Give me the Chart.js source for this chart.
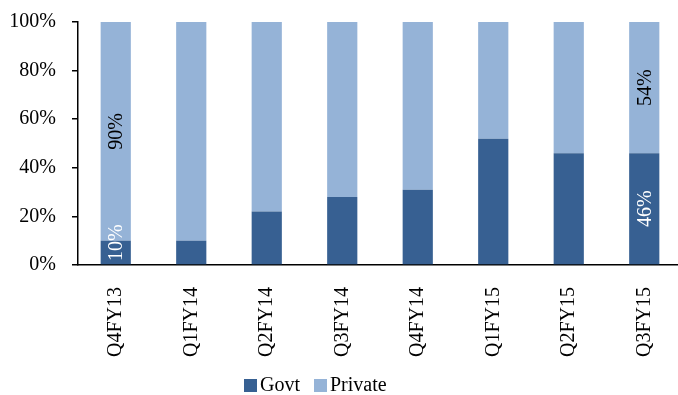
<!DOCTYPE html>
<html>
<head>
<meta charset="utf-8">
<script src="https://cdn.jsdelivr.net/npm/chart.js@4/dist/chart.umd.min.js"></script>
<style>
    html, body { margin: 0; padding: 0; overflow: hidden; background: #fff; }
    #wrap { position: relative; width: 684px; height: 395px; }
    #legend {
        position: absolute; left: 244px; top: 372px;
        font-family: "Liberation Serif", serif; font-size: 20px; color: #000;
        white-space: nowrap; line-height: 24px;
    }
    #legend span.box { display: inline-block; width: 13px; height: 13px; vertical-align: -1px; margin-right: 3px; }
</style>
</head>
<body>
<div id="wrap">
    <canvas id="chart" width="684" height="395"></canvas>
    <div id="legend"></div>
</div>
<script>
// dados
const quarters = ["Q4FY13", "Q1FY14", "Q2FY14", "Q3FY14", "Q4FY14", "Q1FY15", "Q2FY15", "Q3FY15"];
const govtShare = [10, 10, 22, 28, 31, 52, 46, 46];
const privateShare = [90, 90, 78, 72, 69, 48, 54, 54];
const yTicks = [0, 20, 40, 60, 80, 100];
const labelledBars = [0, 7]; // só a primeira e a última barra têm rótulos

const seriesNames = ["Govt", "Private"];
const seriesColors = ["#376092", "#95B3D7"];
const labelColors = ["#ffffff", "#000000"];

const FONT = "Liberation Serif";

// rótulos de valor girados dentro das barras
const barLabels = {
    id: "barLabels",
    afterDatasetsDraw(chart) {
        const ctx = chart.ctx;
        const bottom = chart.chartArea.bottom;
        ctx.save();
        ctx.font = `20px "${FONT}"`;
        ctx.textAlign = "center";
        ctx.textBaseline = "middle";
        chart.data.datasets.forEach((ds, di) => {
            const meta = chart.getDatasetMeta(di);
            labelledBars.forEach(i => {
                const bar = meta.data[i];
                const text = ds.data[i] + "%";
                const w = ctx.measureText(text).width;
                let cy = (bar.y + bar.base) / 2;
                cy = Math.min(cy, bottom - w / 2 - 4);
                ctx.save();
                ctx.translate(bar.x, cy);
                ctx.rotate(-Math.PI / 2);
                ctx.fillStyle = labelColors[di];
                ctx.fillText(text, 0, 1);
                ctx.restore();
            });
        });
        ctx.restore();
    }
};

new Chart(document.getElementById("chart"), {
    type: "bar",
    data: {
        labels: quarters,
        datasets: [
            { label: seriesNames[0], data: govtShare, backgroundColor: seriesColors[0] },
            { label: seriesNames[1], data: privateShare, backgroundColor: seriesColors[1] }
        ]
    },
    options: {
        responsive: false,
        animation: false,
        layout: { padding: { left: 0, right: 2, top: 0, bottom: 0 } },
        datasets: { bar: { categoryPercentage: 1, barPercentage: 0.4, borderWidth: 0 } },
        plugins: { legend: { display: false }, tooltip: { enabled: false } },
        scales: {
            x: {
                stacked: true,
                grid: { display: false },
                border: { display: true, color: "#000", width: 1.5 },
                ticks: {
                    color: "#000", font: { family: FONT, size: 20 },
                    minRotation: 90, maxRotation: 90, padding: 14, autoSkip: false
                },
                afterFit(s) { s.height = 130; }
            },
            y: {
                stacked: true,
                min: 0, max: 100,
                afterBuildTicks(s) { s.ticks = yTicks.map(v => ({ value: v })); },
                grid: { drawOnChartArea: false, drawTicks: true, tickLength: 6, color: "#000", lineWidth: 1.5 },
                border: { display: true, color: "#000", width: 1.5 },
                ticks: {
                    color: "#000", font: { family: FONT, size: 20 }, padding: 16,
                    callback: v => v + "%"
                },
                afterFit(s) { s.width = 78; s.paddingTop = 22; }
            }
        }
    },
    plugins: [barLabels]
});

// legenda em HTML (posição igual à do original)
document.getElementById("legend").innerHTML = seriesNames.map((n, i) =>
    `<span class="box" style="background:${seriesColors[i]}"></span>${n}`
).join('<span style="display:inline-block;width:14px"></span>');
</script>
</body>
</html>
